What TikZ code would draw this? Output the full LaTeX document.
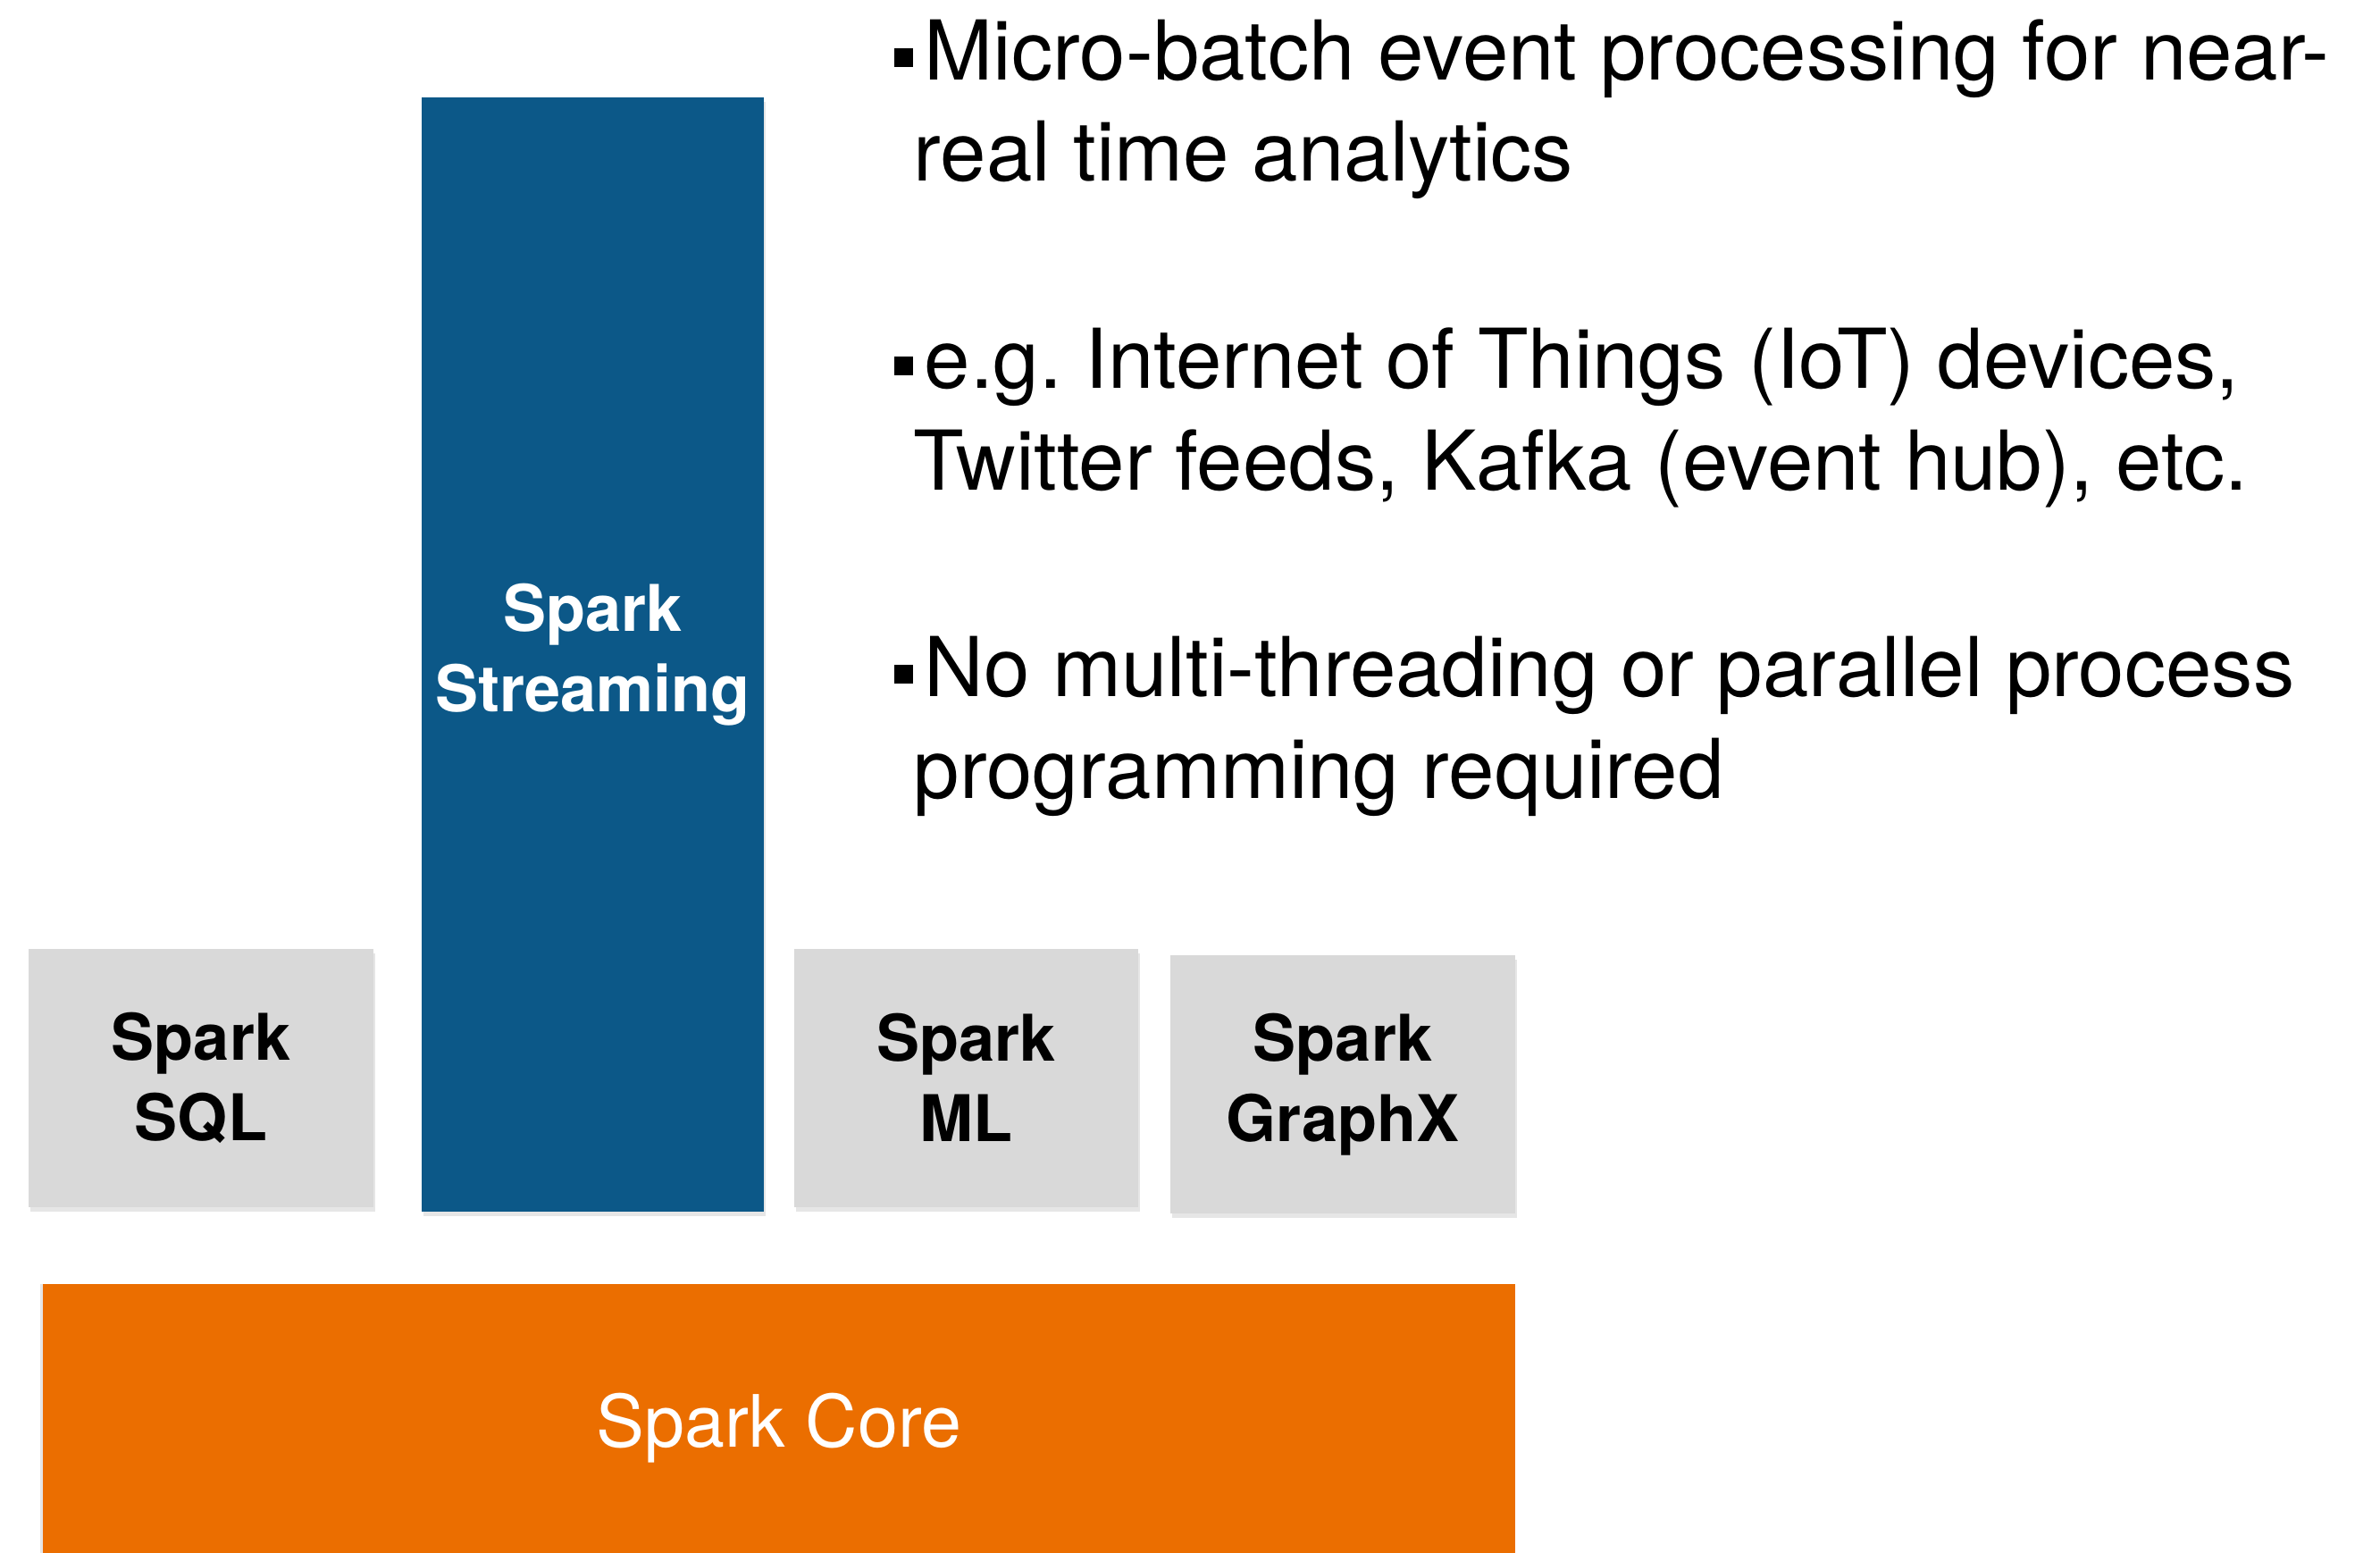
\documentclass[tikz,border=0pt]{standalone}
\usepackage{fontspec}
\setmainfont{TeX Gyre Heros}
\usepackage{tikz}
\usetikzlibrary{shadows}
\frenchspacing

\definecolor{boxgray}{HTML}{D9D9D9}
\definecolor{streamblue}{HTML}{0C5888}
\definecolor{coreorange}{HTML}{EB6E00}

\newcommand{\bsq}{\rule[0.14cm]{0.21cm}{0.21cm}}

\tikzset{
	module/.style={rectangle, fill=boxgray, minimum width=3.86cm, minimum height=2.89cm,
		align=center, font=\bfseries\fontsize{20.5}{25.6}\selectfont,
		drop shadow={shadow xshift=0.02cm, shadow yshift=-0.05cm, opacity=0.2}},
	point/.style={anchor=base west, inner sep=0pt, align=left,
		font=\fontsize{26.3}{32.4}\selectfont}
}

\begin{document}
\begin{tikzpicture}
	\useasboundingbox (0,0) rectangle (26.64,-17.38);
	
	% Define nodes
	\node [module] (sql) at (2.25,-12.06) {Spark\\SQL};
	\node [module, fill=streamblue, text=white, minimum width=3.83cm, minimum height=12.47cm] (stream) at (6.635,-7.325) {Spark\\Streaming};
	\node [module, minimum width=3.85cm] (ml) at (10.815,-12.06) {Spark\\ML};
	\node [module] (graphx) at (15.03,-12.135) {Spark\\GraphX};
	\node [rectangle, fill=coreorange, text=white, minimum width=16.48cm, minimum height=3.22cm,
		font=\fontsize{23}{28}\selectfont,
		drop shadow={shadow xshift=-0.03cm, shadow yshift=0cm, opacity=0.2}] (core) at (8.72,-15.98) {Spark Core};
	
	% Bullet points (placed at the baseline of their last line)
	\node [point] (p1) at (10.00,-2.03) {\bsq\hspace{0.13cm}Micro-batch event processing for near-\\\hspace*{0.22cm}real time analytics};
	\node [point] (p2) at (10.00,-5.48) {\bsq\hspace{0.13cm}e.g. Internet of Things (IoT) devices,\\\hspace*{0.22cm}Twitter feeds, Kafka (event hub), etc.};
	\node [point] (p3) at (10.00,-8.93) {\bsq\hspace{0.13cm}No multi-threading or parallel process\\\hspace*{0.22cm}programming required};
\end{tikzpicture}
\end{document}
